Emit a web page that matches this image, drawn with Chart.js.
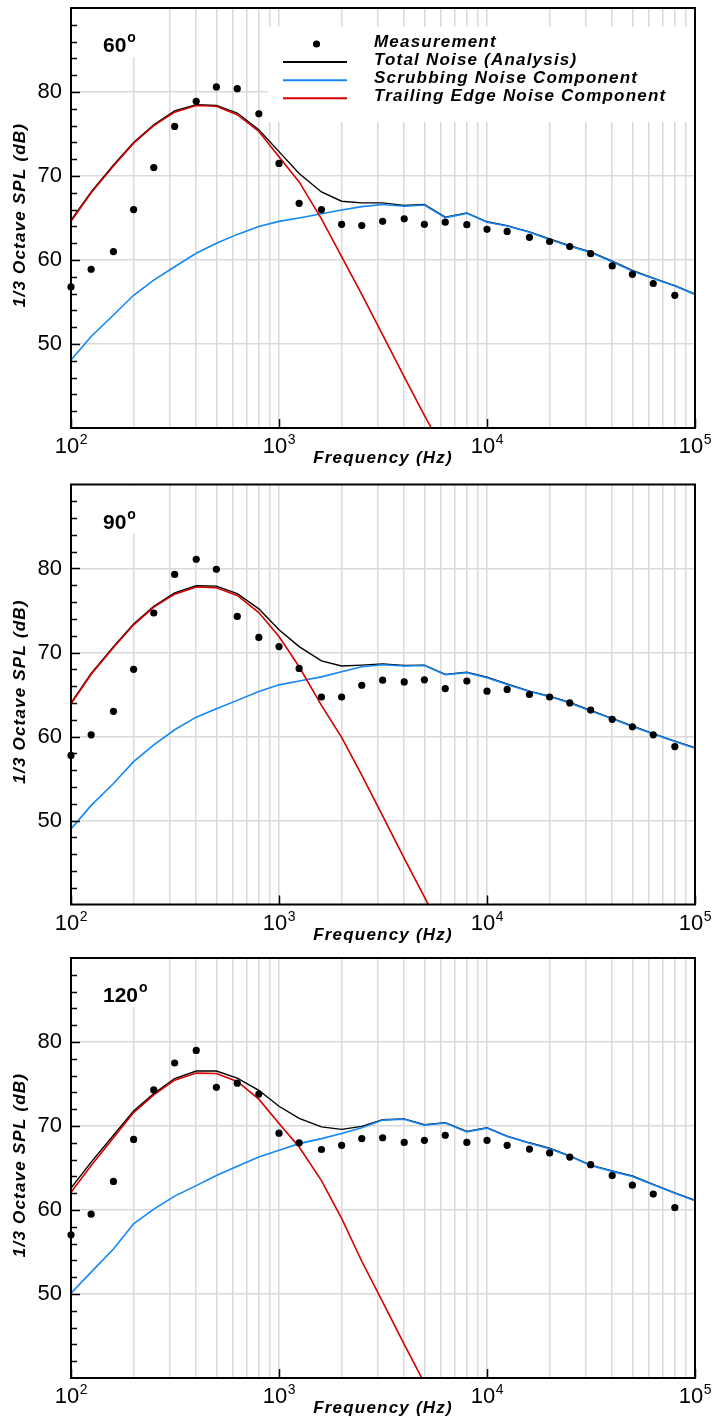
<!DOCTYPE html>
<html>
<head>
<meta charset="utf-8">
<script src="https://cdn.jsdelivr.net/npm/chart.js@4.4.0/dist/chart.umd.min.js"></script>
<style>
  body { margin: 0; background: #fff; width: 712px; height: 1422px; position: relative; overflow: hidden; }
  .panel { position: absolute; left: 0; width: 712px; }
  canvas { display: block; }
</style>
</head>
<body>
<div class="panel" style="top:0;height:470px"><canvas id="p60" width="712" height="470"></canvas></div>
<div class="panel" style="top:474px;height:474px"><canvas id="p90" width="712" height="474"></canvas></div>
<div class="panel" style="top:948px;height:474px"><canvas id="p120" width="712" height="474"></canvas></div>
<script>
// 1/3 octave band centre frequencies (Hz)
const freqs = [100, 125, 160, 200, 250, 315, 400, 500, 630, 800,
  1000, 1250, 1600, 2000, 2500, 3150, 4000, 5000, 6300, 8000,
  10000, 12500, 16000, 20000, 25000, 31500, 40000, 50000, 63000, 80000, 100000];

// 60 deg
const meas60 = [56.8, 58.9, 61.0, 66.0, 71.0, 75.9, 78.9, 80.6, 80.4, 77.4,
  71.5, 66.75, 66.0, 64.25, 64.1, 64.6, 64.9, 64.25, 64.5, 64.2,
  63.65, 63.4, 62.7, 62.2, 61.6, 60.75, 59.3, 58.3, 57.2, 55.8];
const total60 = [64.75, 68.1, 71.3, 74.0, 76.1, 77.75, 78.5, 78.4, 77.5, 75.5,
  72.9, 70.3, 68.1, 67.0, 66.8, 66.8, 66.5, 66.6, 65.1, 65.6,
  64.55, 64.1, 63.35, 62.5, 61.7, 60.95, 59.85, 58.75, 57.85, 56.95, 55.95];
const scrub60 = [48.1, 50.9, 53.45, 55.8, 57.6, 59.2, 60.8, 62.0, 63.05, 64.0,
  64.6, 65.0, 65.5, 65.95, 66.35, 66.6, 66.4, 66.55, 65.05, 65.55,
  64.5, 64.05, 63.3, 62.45, 61.65, 60.9, 59.8, 58.7, 57.8, 56.9, 55.9];
const te60 = [64.6, 68.0, 71.2, 73.9, 76.0, 77.6, 78.4, 78.3, 77.3, 75.3,
  72.3, 69.3, 64.9, 60.4, 55.9, 51.1, 46.1, 41.5, 37.0];

// 90 deg
const meas90 = [57.75, 60.2, 63.0, 68.0, 74.7, 79.3, 81.1, 79.9, 74.3, 71.8,
  70.7, 68.1, 64.7, 64.7, 66.1, 66.7, 66.5, 66.75, 65.7, 66.6,
  65.4, 65.6, 65.0, 64.7, 64.0, 63.15, 62.05, 61.15, 60.2, 58.8];
const total90 = [64.0, 67.5, 70.7, 73.4, 75.5, 77.1, 77.95, 77.9, 77.0, 75.2,
  72.7, 70.7, 69.0, 68.4, 68.5, 68.65, 68.45, 68.5, 67.4, 67.65,
  67.05, 66.25, 65.4, 64.8, 64.05, 63.1, 62.15, 61.25, 60.35, 59.45, 58.65];
const scrub90 = [49.0, 51.8, 54.4, 57.0, 59.0, 60.8, 62.3, 63.3, 64.3, 65.35,
  66.15, 66.6, 67.1, 67.7, 68.3, 68.55, 68.4, 68.45, 67.35, 67.6,
  67.0, 66.2, 65.35, 64.75, 64.0, 63.05, 62.1, 61.2, 60.3, 59.4, 58.6];
const te90 = [63.9, 67.4, 70.6, 73.3, 75.4, 76.95, 77.8, 77.7, 76.8, 74.75,
  71.9, 68.3, 63.7, 59.9, 55.4, 50.55, 45.5, 40.9, 36.0];

// 120 deg
const meas120 = [57.05, 59.5, 63.4, 68.4, 74.3, 77.5, 79.0, 74.6, 75.1, 73.8,
  69.15, 68.0, 67.2, 67.7, 68.5, 68.6, 68.05, 68.3, 68.9, 68.05,
  68.3, 67.7, 67.25, 66.8, 66.3, 65.4, 64.1, 62.95, 61.9, 60.3];
const total120 = [62.6, 65.7, 68.9, 71.8, 73.85, 75.65, 76.55, 76.55, 75.7, 74.25,
  72.35, 70.9, 69.9, 69.6, 69.95, 70.75, 70.85, 70.15, 70.4, 69.35,
  69.8, 68.8, 68.0, 67.35, 66.45, 65.35, 64.65, 64.05, 63.05, 62.05, 61.15];
const scrub120 = [50.1, 52.6, 55.35, 58.35, 60.1, 61.65, 62.9, 64.1, 65.2, 66.3,
  67.1, 67.9, 68.5, 69.1, 69.8, 70.7, 70.8, 70.1, 70.35, 69.3,
  69.75, 68.75, 67.95, 67.3, 66.4, 65.3, 64.6, 64.0, 63.0, 62.0, 61.1];
const te120 = [62.1, 65.3, 68.6, 71.6, 73.7, 75.45, 76.3, 76.25, 75.3, 73.2,
  70.3, 67.5, 63.5, 59.0, 53.9, 49.05, 44.0, 39.4, 34.5];

// axes
const xMin = 100, xMax = 100000;
const xLabelPowers = [2, 3, 4, 5];
const yMin = 40, yMax = 90;
const yLabels = [50, 60, 70, 80];

const seriesNames = ['Measurement', 'Total Noise (Analysis)', 'Scrubbing Noise Component', 'Trailing Edge Noise Component'];
const BLUE = '#1487f5', RED = '#d40000', GRID = '#d9d9d9';
const FONT = '"Liberation Sans", Arial, Helvetica, sans-serif';

const xGridValues = [];
for (let p = 2; p < 5; p++) for (let m = 1; m <= 9; m++) xGridValues.push(m * Math.pow(10, p));
xGridValues.push(xMax);
const yTickValues = [];
for (let v = yMin; v <= yMax; v += 2) yTickValues.push(v);

const pts = (vals) => vals.map((v, i) => ({ x: freqs[i], y: v }));

const framePlugin = {
  id: 'frame',
  beforeDatasetsDraw(chart) {
    const o = chart.options.plugins.frame;
    const a = chart.chartArea;
    const ctx = chart.ctx;
    ctx.save();
    ctx.fillStyle = '#fff';
    // box behind panel label
    ctx.font = 'bold 21px ' + FONT;
    const w = ctx.measureText(o.label).width + 12;
    ctx.fillRect(98, a.top + 1, w + 8, 48);
    if (o.legend) ctx.fillRect(268, a.top + 19, a.right - 269, 95);
    ctx.restore();
  },
  afterDraw(chart) {
    const o = chart.options.plugins.frame;
    const a = chart.chartArea;
    const ctx = chart.ctx;
    const xs = chart.scales.x, ys = chart.scales.y;
    ctx.save();

    // inward ticks on left axis
    ctx.strokeStyle = '#000';
    ctx.lineWidth = 1.5;
    yTickValues.forEach(v => {
      if (v === yMin || v === yMax) return;
      const py = Math.round(ys.getPixelForValue(v)) + 0.5;
      const len = v % 10 === 0 ? 9 : 6;
      ctx.beginPath(); ctx.moveTo(a.left, py); ctx.lineTo(a.left + len, py); ctx.stroke();
    });
    // inward major ticks on bottom axis
    xLabelPowers.forEach(p => {
      const px = Math.round(xs.getPixelForValue(Math.pow(10, p))) + 0.5;
      ctx.beginPath(); ctx.moveTo(px, a.bottom); ctx.lineTo(px, a.bottom - 9); ctx.stroke();
    });

    // frame
    ctx.lineWidth = 2;
    ctx.strokeRect(a.left, a.top, a.right - a.left, a.bottom - a.top);

    // x tick labels 10^n
    ctx.fillStyle = '#000';
    ctx.textBaseline = 'alphabetic';
    ctx.textAlign = 'left';
    xLabelPowers.forEach(p => {
      const px = xs.getPixelForValue(Math.pow(10, p));
      ctx.font = '22px ' + FONT;
      const wb = ctx.measureText('10').width;
      ctx.font = '14px ' + FONT;
      const we = ctx.measureText(String(p)).width;
      const x0 = px - (wb + we) / 2;
      ctx.font = '22px ' + FONT;
      ctx.fillText('10', x0, a.bottom + 25);
      ctx.font = '14px ' + FONT;
      ctx.fillText(String(p), x0 + wb + 0.5, a.bottom + 16);
    });

    // axis titles
    ctx.font = 'italic bold 17px ' + FONT;
    ctx.letterSpacing = '1.2px';
    ctx.textAlign = 'center';
    ctx.fillText('Frequency (Hz)', (a.left + a.right) / 2, a.bottom + 35);
    ctx.save();
    ctx.translate(25, (a.top + a.bottom) / 2 - 3);
    ctx.rotate(-Math.PI / 2);
    ctx.fillText('1/3 Octave SPL (dB)', 0, 0);
    ctx.restore();
    ctx.letterSpacing = '0px';

    // panel label, e.g. 60 with superscript o
    ctx.textAlign = 'left';
    ctx.font = 'bold 21px ' + FONT;
    ctx.fillText(o.label, 103, a.top + 44);
    const lw = ctx.measureText(o.label).width;
    ctx.font = 'bold 14px ' + FONT;
    ctx.fillText('o', 103 + lw + 1, a.top + 34);

    // legend
    if (o.legend) {
      const ds = chart.data.datasets;
      const rowY = [46.5, 64.6, 82.7, 100.8];
      ctx.font = 'italic bold 17px ' + FONT;
      ctx.letterSpacing = '1.2px';
      seriesNames.forEach((name, i) => {
        const d = ds.find(s => s.label === name);
        if (i === 0) {
          ctx.fillStyle = '#000';
          ctx.beginPath(); ctx.arc(316.5, 44, 3.6, 0, Math.PI * 2); ctx.fill();
        } else {
          ctx.strokeStyle = d.borderColor;
          ctx.lineWidth = 2;
          ctx.beginPath(); ctx.moveTo(283, rowY[i] - 2.5); ctx.lineTo(347, rowY[i] - 2.5); ctx.stroke();
        }
        ctx.fillStyle = '#000';
        ctx.fillText(name, 374, rowY[i]);
      });
      ctx.letterSpacing = '0px';
    }
    ctx.restore();
  }
};

function makePanel(id, label, padTop, axisH, meas, total, scrub, te, legend) {
  return new Chart(document.getElementById(id), {
    type: 'line',
    data: {
      datasets: [
        { label: seriesNames[0], data: pts(meas), showLine: false, pointRadius: 3.6,
          pointBackgroundColor: '#000', pointBorderWidth: 0, borderColor: '#000', clip: false },
        { label: seriesNames[3], data: pts(te), borderColor: RED, borderWidth: 1.6, pointRadius: 0 },
        { label: seriesNames[2], data: pts(scrub), borderColor: BLUE, borderWidth: 1.6, pointRadius: 0 },
        { label: seriesNames[1], data: pts(total), borderColor: '#000', borderWidth: 1.4, pointRadius: 0 }
      ]
    },
    options: {
      responsive: false,
      animation: false,
      devicePixelRatio: 1,
      layout: { padding: { top: padTop, right: 17, left: 0, bottom: 0 } },
      plugins: {
        legend: { display: false },
        tooltip: { enabled: false },
        frame: { label: label, legend: legend }
      },
      scales: {
        x: {
          type: 'logarithmic', min: xMin, max: xMax,
          afterBuildTicks: s => { s.ticks = xGridValues.map(v => ({ value: v })); },
          afterFit: s => { s.height = axisH; s.paddingLeft = 0; s.paddingRight = 0; },
          ticks: { display: false },
          grid: { color: GRID, lineWidth: 1.5, drawTicks: false },
          border: { display: false }
        },
        y: {
          min: yMin, max: yMax,
          afterBuildTicks: s => { s.ticks = yTickValues.map(v => ({ value: v })); },
          afterFit: s => { s.width = 71; s.paddingTop = 0; s.paddingBottom = 0; },
          ticks: {
            autoSkip: false, padding: 9, color: '#000',
            font: { size: 22, family: FONT },
            callback: v => yLabels.includes(v) ? String(v) : ''
          },
          grid: {
            color: c => (c.tick && yLabels.includes(c.tick.value)) ? GRID : 'rgba(0,0,0,0)',
            lineWidth: 1.5, drawTicks: false
          },
          border: { display: false }
        }
      }
    },
    plugins: [framePlugin]
  });
}

makePanel('p60', '60', 8, 42, meas60, total60, scrub60, te60, true);
makePanel('p90', '90', 10.5, 43.5, meas90, total90, scrub90, te90, false);
makePanel('p120', '120', 10, 44, meas120, total120, scrub120, te120, false);
</script>
</body>
</html>
